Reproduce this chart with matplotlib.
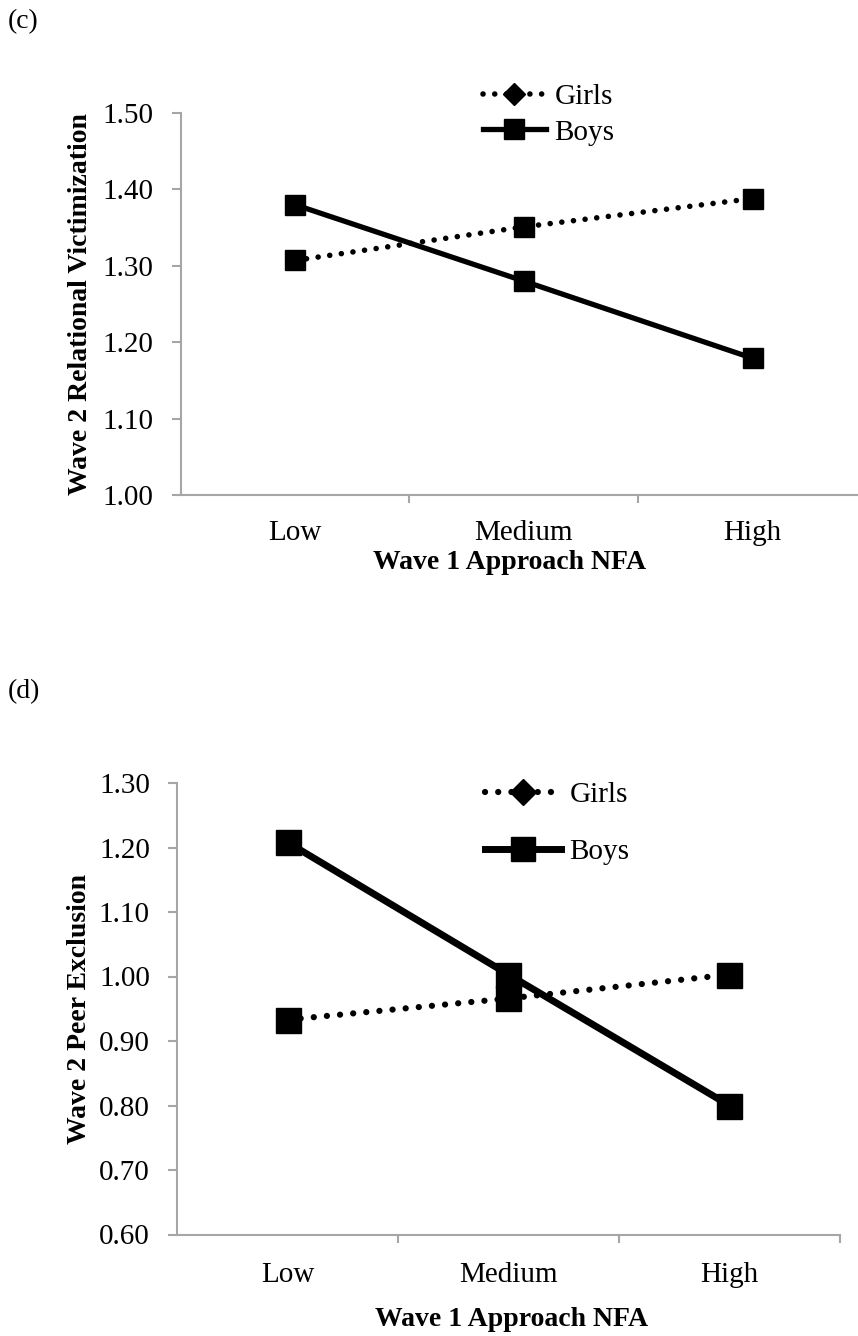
import matplotlib
matplotlib.use("Agg")
import matplotlib.pyplot as plt
from matplotlib.lines import Line2D

plt.rcParams['font.family'] = ['Liberation Serif', 'DejaVu Serif']

categories = ["Low", "Medium", "High"]
series_names = ["Girls", "Boys"]

c_girls = [1.307, 1.351, 1.388]
c_boys = [1.380, 1.280, 1.179]
c_yticks = [1.00, 1.10, 1.20, 1.30, 1.40, 1.50]
c_ylabel = "Wave 2 Relational Victimization"

d_girls = [0.933, 0.966, 1.003]
d_boys = [1.208, 1.003, 0.800]
d_yticks = [0.60, 0.70, 0.80, 0.90, 1.00, 1.10, 1.20, 1.30]
d_ylabel = "Wave 2 Peer Exclusion"

xlabel = "Wave 1 Approach NFA"

W, H = 858, 1336
fig = plt.figure(figsize=(W / 100, H / 100), dpi=100)

GRAY = "#a6a6a6"
FS = 20
TFS = 21


def px_rect(left, top, right, bottom):
    return [left / W, 1 - bottom / H, (right - left) / W, (bottom - top) / H]


def panel(rect, girls, boys, yticks, ylabel, lw, ms, dot_lw, leg_anchor, leg_spacing,
          handlelen, ylab_x, xlab_xy, xpad):
    ax = fig.add_axes(rect)
    x = list(range(len(categories)))
    ax.plot(x, girls, color="black", lw=dot_lw, linestyle=(0, (0.01, 2.1)),
            dash_capstyle="round", marker="s", ms=ms, zorder=3)
    ax.plot(x, boys, color="black", lw=lw, linestyle="-", marker="s", ms=ms, zorder=4)
    ax.set_xlim(-0.5, len(categories) - 0.5)
    ax.set_ylim(yticks[0], yticks[-1])
    ax.set_yticks(yticks)
    ax.set_yticklabels([f"{v:.2f}" for v in yticks], fontsize=TFS)
    ax.set_xticks(x)
    ax.set_xticklabels(categories, fontsize=TFS)
    ax.set_xticks([i + 0.5 for i in range(len(categories))], minor=True)
    ax.tick_params(axis="x", which="major", length=0, pad=xpad)
    ax.tick_params(axis="x", which="minor", length=6, width=1.5, color=GRAY)
    ax.tick_params(axis="y", length=6.5, width=1.5, color=GRAY, pad=13)
    for s in ["top", "right"]:
        ax.spines[s].set_visible(False)
    for s in ["left", "bottom"]:
        ax.spines[s].set_color(GRAY)
        ax.spines[s].set_linewidth(1.5)
    ax.set_ylabel(ylabel, fontsize=FS, fontweight="bold")
    ax.yaxis.set_label_coords(ylab_x, 0.5)
    ax.set_xlabel(xlabel, fontsize=FS, fontweight="bold")
    ax.xaxis.set_label_coords(*xlab_xy)

    handles = [
        Line2D([], [], color="black", lw=dot_lw, linestyle=(0, (0.01, 2.1)),
               dash_capstyle="round", marker="D", ms=ms * 0.75),
        Line2D([], [], color="black", lw=lw, linestyle="-", marker="s", ms=ms * 0.95),
    ]
    ax.legend(handles, series_names, loc="upper left",
              bbox_to_anchor=leg_anchor, bbox_transform=fig.transFigure,
              frameon=False, fontsize=TFS, handlelength=handlelen, handletextpad=0.3,
              labelspacing=leg_spacing, borderpad=0, borderaxespad=0)
    return ax


panel(px_rect(180.5, 113, 867, 495), c_girls, c_boys, c_yticks, c_ylabel,
      lw=3.8, ms=15, dot_lw=4.0, leg_anchor=(483 / W, 1 - 84 / H), leg_spacing=0.3,
      handlelen=2.15, ylab_x=-0.1275, xlab_xy=(0.48, -0.145), xpad=18)
panel(px_rect(177, 783, 840, 1234.5), d_girls, d_boys, d_yticks, d_ylabel,
      lw=5.0, ms=18, dot_lw=4.5, leg_anchor=(485 / W, 1 - 782 / H), leg_spacing=1.05,
      handlelen=2.6, ylab_x=-0.128, xlab_xy=(0.504, -0.16), xpad=20)

fig.text(8 / W, 1 - 22 / H, "(c)", fontsize=FS, va="center", ha="left")
fig.text(8 / W, 1 - 692 / H, "(d)", fontsize=FS, va="center", ha="left")

fig.savefig("out.png", dpi=100)
